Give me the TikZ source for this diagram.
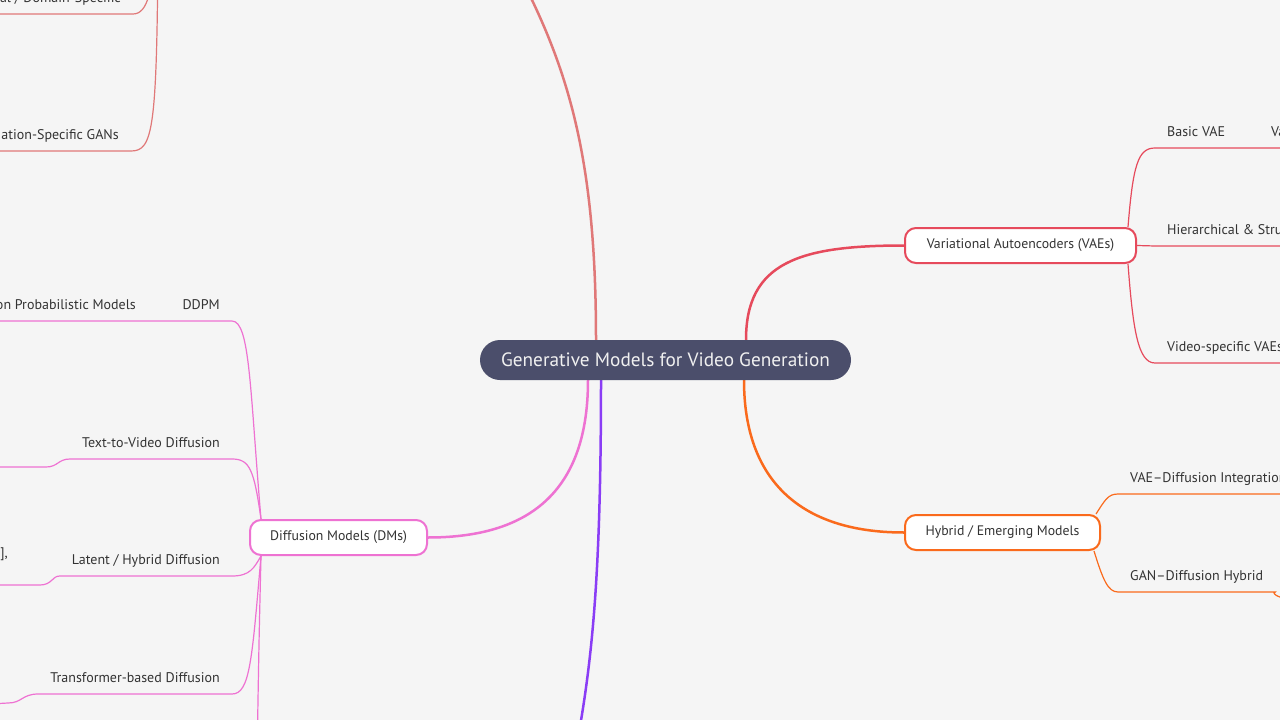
\documentclass[tikz,border=0pt]{standalone}
\usepackage{fontspec}
\setmainfont{PT Sans}
\usetikzlibrary{positioning,backgrounds}

\definecolor{bgGray}{HTML}{F5F5F5}
\definecolor{rootFill}{HTML}{4B4E6B}
\definecolor{ganRed}{HTML}{E07878}
\definecolor{dmPink}{HTML}{EE72D2}
\definecolor{lowPurple}{HTML}{8A3DF5}
\definecolor{vaeRed}{HTML}{E64A5C}
\definecolor{hybOrange}{HTML}{FA6A1C}
\definecolor{txtGray}{HTML}{333333}

\tikzset{
  root/.style={rounded corners=20pt, fill=rootFill, text=white!94!black,
    minimum width=371pt, minimum height=40pt, font=\fontsize{19.3}{22}\selectfont},
  topic/.style={rounded corners=11pt, draw, line width=2pt, fill=white,
    minimum height=35pt, text=txtGray, font=\fontsize{13.8}{16}\selectfont},
  sub/.style={text=txtGray, font=\fontsize{14}{16}\selectfont, inner xsep=12pt,
    inner ysep=8.5pt, text height=9.5pt, text depth=2.5pt},
  trunk/.style={line width=2.5pt},
  twig/.style={line width=1.2pt},
}

\begin{document}
\begin{tikzpicture}[x=1pt,y=-1pt]
  \useasboundingbox (0,0) rectangle (1280,720);
  \clip (0,0) rectangle (1280,720);

  % main topics
  \node[root] (root) at (665.5,360) {Generative Models for Video Generation};
  \node[topic,draw=dmPink,minimum width=177pt] (dm) at (338.5,537.5) {Diffusion Models (DMs)};
  \node[topic,draw=vaeRed,minimum width=231pt] (vae) at (1020.5,245.5) {Variational Autoencoders (VAEs)};
  \node[topic,draw=hybOrange,minimum width=195pt] (hyb) at (1002.5,532.5) {Hybrid / Emerging Models};

  % topics off the page
  \coordinate (gan) at (465,-95);
  \coordinate (ganW) at (158,-60);
  \coordinate (lower) at (570,780);

  % GAN subtopics
  \node[sub,anchor=south east] (dspec) at (133,14) {al / Domain-Specific};
  \node[sub,anchor=south east] (gspec) at (131,151) {ation-Specific GANs};
  \coordinate (dspecEnd) at (-10,14);
  \coordinate (gspecEnd) at (-10,151);

  % DM subtopics
  \node[sub,anchor=south east] (ddpm) at (232,321) {DDPM};
  \node[sub,anchor=south east] (ddpmKid) at (148,321) {on Probabilistic Models};
  \node[sub,anchor=south east] (ttv) at (232,459) {Text-to-Video Diffusion};
  \node[sub,anchor=south east] (latent) at (232,576) {Latent / Hybrid Diffusion};
  \node[anchor=east,text=txtGray,font=\fontsize{14}{16}\selectfont,inner sep=0pt] (latentKid) at (8,554) {],};
  \node[sub,anchor=south east] (trans) at (232,694) {Transformer-based Diffusion};
  \coordinate (ddpmEnd) at (-10,321);
  \coordinate (ttvEnd) at (-10,467);
  \coordinate (latentEnd) at (-10,585);
  \coordinate (transEnd) at (-10,704);
  \coordinate (dmDown) at (257,760);

  % VAE subtopics
  \node[sub,anchor=south west] (basic) at (1155,148) {Basic VAE};
  \node[sub,anchor=south west] (basicKid) at (1259,148) {Va};
  \node[sub,anchor=south west] (hier) at (1155,246) {Hierarchical \& Struc};
  \node[sub,anchor=south west] (vidv) at (1155,363) {Video-specific VAEs};

  % hybrid subtopics
  \node[sub,anchor=south west] (vdi) at (1118,494) {VAE–Diffusion Integration};
  \node[sub,anchor=south west] (gdh) at (1118,592) {GAN–Diffusion Hybrid};
  \coordinate (gdhEnd) at (1300,600);

  \begin{scope}[on background layer]
    \fill[bgGray] (0,0) rectangle (1280,720);

    % branches from the root
    \draw[trunk,ganRed] ([xshift=-69.5]root.north) .. controls (596,180) and (575,90) .. (532,0)
      .. controls (515,-35) and (495,-75) .. (gan);
    \draw[trunk,dmPink] ([xshift=-77.5]root.south) .. controls (588,500) and (520,537.5) .. (dm.east);
    \draw[trunk,lowPurple] ([xshift=-64.5]root.south) .. controls (601,600) and (590,680) .. (lower);
    \draw[trunk,vaeRed] ([xshift=80.5]root.north) .. controls (746,262) and (800,245.5) .. (vae.west);
    \draw[trunk,hybOrange] ([xshift=78.5]root.south) .. controls (744,480) and (800,532.5) .. (hyb.west);

    % GAN twigs
    \draw[twig,ganRed] (ganW) .. controls (152,-10) and (148,14) .. (dspec.south east) -- (dspec.south west) -- (dspecEnd);
    \draw[twig,ganRed] (ganW) .. controls (157,130) and (153,151) .. (gspec.south east) -- (gspec.south west) -- (gspecEnd);

    % DM twigs
    \draw[twig,dmPink] ([xshift=12]dm.north west) .. controls (250,390) and (250,321) .. (ddpm.south east)
      -- (ddpm.south west) -- (ddpmKid.south east) -- (ddpmEnd);
    \draw[twig,dmPink] ([xshift=12]dm.north west) .. controls (254,470) and (250,459) .. (ttv.south east)
      -- (ttv.south west) .. controls (58,459) and (58,467) .. (46,467) -- (ttvEnd);
    \draw[twig,dmPink] ([xshift=12]dm.south west) .. controls (254,568) and (250,576) .. (latent.south east)
      -- (latent.south west) .. controls (52,576) and (52,585) .. (40,585) -- (latentEnd);
    \draw[twig,dmPink] ([xshift=12]dm.south west) .. controls (252,660) and (250,694) .. (trans.south east)
      -- (trans.south west) .. controls (22,694) and (22,703) .. (8,703) -- (transEnd);
    \draw[twig,dmPink] ([xshift=12]dm.south west) .. controls (259,640) .. (dmDown);

    % VAE twigs
    \draw[twig,vaeRed] ([xshift=-9]vae.north east) .. controls (1133,165) and (1138,148) .. (basic.south west)
      -- (basic.south east) -- (basicKid.south west) -- (basicKid.south east);
    \draw[twig,vaeRed] (vae.east) -- (hier.south west) -- (hier.south east);
    \draw[twig,vaeRed] ([xshift=-9]vae.south east) .. controls (1133,330) and (1138,363) .. (vidv.south west)
      -- (vidv.south east);

    % hybrid twigs
    \draw[twig,hybOrange] ([xshift=-5]hyb.north east) .. controls (1105,500) and (1108,494) .. (vdi.south west)
      -- (vdi.south east);
    \draw[twig,hybOrange] ([xshift=-7]hyb.south east) .. controls (1103,580) and (1108,592) .. (gdh.south west)
      -- (gdh.south east) .. controls (1272,592) and (1274,599) .. (gdhEnd);
  \end{scope}
\end{tikzpicture}
\end{document}
